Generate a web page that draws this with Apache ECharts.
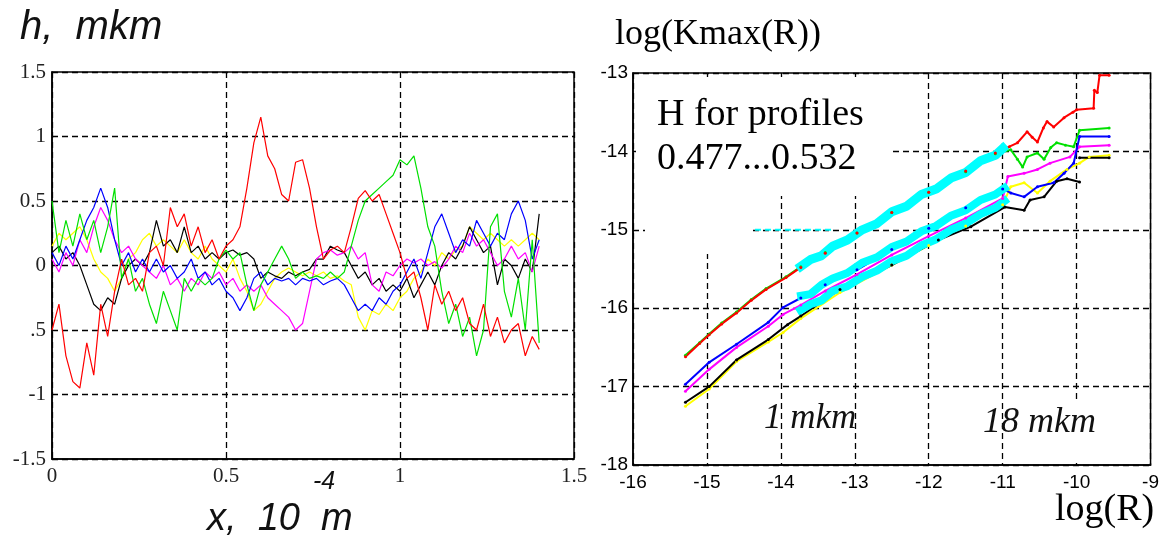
<!DOCTYPE html>
<html lang="en">
<head>
    <meta charset="UTF-8">
    <script src="https://cdn.jsdelivr.net/npm/echarts@6/dist/echarts.min.js"></script>
    <title>Profiles and log(Kmax(R))</title>
</head>
<style>
    body{
        width: 100%;
        height: 100%;
        margin: 0;
        padding: 0;
        background: #fff;
    }
</style>
<body>
<div id="main" style="width: 1162px;height:542px;"></div>
</body>
<script>
    // left panel: profile heights h (mkm) against x (10^-4 m)
    var xs = [0,0.02,0.04,0.06,0.08,0.1,0.12,0.14,0.16,0.18,0.2,0.22,0.24,0.26,0.28,0.3,0.32,0.34,0.36,0.38,
              0.4,0.42,0.44,0.46,0.48,0.5,0.52,0.54,0.56,0.58,0.6,0.62,0.64,0.66,0.68,0.7,0.72,0.74,0.76,0.78,
              0.8,0.82,0.84,0.86,0.88,0.9,0.92,0.94,0.96,0.98,1,1.02,1.04,1.06,1.08,1.1,1.12,1.14,1.16,1.18,
              1.2,1.22,1.24,1.26,1.28,1.3,1.32,1.34,1.36,1.38,1.4];
    var hRed = [-0.5,-0.3,-0.7,-0.9,-0.95,-0.6,-0.85,-0.3,-0.55,-0.2,
                0.05,-0.15,-0.1,-0.2,0.1,0.15,0,0.45,0.3,0.4,
                0.15,0.3,0.1,0.2,0.05,0.15,0.2,0.3,0.6,0.95,
                1.15,0.85,0.75,0.55,0.5,0.8,0.82,0.6,0.3,0.05,
                0.12,0.15,0.1,0.3,0.52,0.58,0.5,0.55,0.4,0.25,
                0.1,-0.1,-0.05,-0.25,-0.5,-0.15,-0.3,-0.2,-0.35,-0.25,
                -0.45,-0.5,-0.3,-0.55,-0.4,-0.6,-0.5,-0.45,-0.7,-0.55,-0.65];
    var hGreen = [0.5,0.1,0.35,0.15,0.4,0.2,0.35,0.1,0.3,0.6,
                  -0.1,0.05,-0.2,-0.1,-0.3,-0.45,-0.2,-0.35,-0.5,-0.1,
                  -0.2,-0.1,-0.15,-0.1,0.05,0.12,0.05,0.1,-0.15,-0.35,
                  -0.15,-0.05,0.05,0.15,0.05,-0.1,-0.05,-0.1,-0.08,-0.1,
                  -0.05,-0.1,-0.05,0.15,0.35,0.5,0.55,0.6,0.65,0.7,
                  0.82,0.78,0.85,0.6,0.3,0.15,-0.2,-0.45,-0.3,-0.55,
                  -0.4,-0.7,-0.5,0.3,0.4,-0.2,-0.4,-0.1,-0.5,0.2,-0.6];
    var hBlue = [0.1,0,0.15,0.05,0.2,0.35,0.45,0.6,0.45,0.2,
                 0,0.1,-0.05,0.05,-0.05,0.05,-0.05,0,-0.1,-0.05,
                 0.05,-0.1,-0.05,-0.15,-0.1,-0.2,-0.25,-0.35,-0.25,-0.1,
                 -0.05,-0.15,-0.1,-0.12,-0.1,-0.15,-0.1,-0.12,-0.1,-0.15,
                 -0.12,-0.1,-0.15,-0.25,-0.35,-0.3,-0.35,-0.25,-0.3,-0.2,
                 -0.15,-0.05,0.05,-0.1,0.1,0.3,0.4,0.25,0.1,0.2,
                 0.15,0.35,0.25,0.15,0.25,0.2,0.4,0.5,0.35,0.05,0.2];
    var hMagenta = [0.05,-0.05,0.1,0,0.2,0.1,0.3,0.45,0.35,0.2,
                    0.1,0.15,0.05,0,-0.05,-0.1,0,-0.15,-0.1,-0.2,
                    -0.1,-0.15,-0.05,-0.1,-0.05,-0.15,-0.1,-0.2,-0.15,-0.2,
                    -0.15,-0.25,-0.3,-0.35,-0.4,-0.5,-0.45,-0.2,0.05,0.1,
                    0.12,0.08,0.1,0.15,0.05,0.1,-0.15,-0.2,-0.05,-0.08,
                    0,0.05,0.02,0.05,0,0.03,-0.02,0.05,0.15,0.1,
                    0.25,0.15,0.2,0.1,0,0.05,0.15,0.05,0.1,-0.05,0.15];
    var hBlack = [0.1,0.15,0.05,0.1,0,-0.15,-0.3,-0.35,-0.25,-0.3,
                  -0.1,0,0.05,0,0.1,0.35,0.15,0.2,0.1,0.3,
                  0.1,0.15,0.05,0.1,0.05,0.1,0.12,0.08,0.1,0.05,
                  -0.1,-0.05,-0.08,-0.1,-0.05,-0.08,-0.05,-0.03,0.05,0.05,
                  0.15,0.12,0.1,0,-0.1,-0.05,-0.15,-0.1,-0.2,-0.15,
                  -0.2,-0.1,-0.25,-0.15,-0.05,-0.15,0,0.1,0.05,0.15,
                  0.3,0.2,0.1,0.15,-0.15,0.05,0,-0.1,0.05,-0.05,0.4];
    var hYellow = [0.15,0.25,0.2,0.25,0.3,0.2,0.05,-0.05,-0.1,-0.2,
                   -0.1,0.05,0.1,0.2,0.25,0.15,0.2,0.15,0.1,0.2,
                   0.1,0.05,0.15,0.05,0,-0.05,0.05,-0.1,-0.2,-0.35,
                   -0.3,-0.2,-0.1,-0.05,-0.02,-0.05,-0.08,-0.05,-0.08,-0.05,
                   -0.1,-0.08,-0.12,-0.15,-0.4,-0.5,-0.35,-0.38,-0.3,-0.35,
                   -0.25,-0.2,-0.1,-0.05,0.05,0,0.1,0.05,0.12,0.15,
                   0.3,0.25,0.2,0.25,0.2,0.15,0.2,0.15,0.2,0.25,0.2];
    var leftYLabels = ['-1.5','-1','.5','0','0.5','1','1.5'];

    // right panel: log(Kmax(R)) against log(R), [logR, logK]
    var kRed = [[-15.29,-16.62],[-15.1,-16.45],[-14.97,-16.34],[-14.8,-16.2],[-14.6,-16.06],[-14.4,-15.9],
                [-14.2,-15.76],[-13.93,-15.61],[-13.73,-15.48],[-13.4,-15.3],[-12.97,-15.04],[-12.5,-14.78],
                [-12,-14.52],[-11.5,-14.25],[-11.1,-14.02],[-10.91,-13.94],[-10.8,-13.89],[-10.67,-13.75],
                [-10.6,-13.82],[-10.53,-13.88],[-10.45,-13.7],[-10.4,-13.62],[-10.31,-13.69],[-10.17,-13.57],
                [-10.05,-13.5],[-10,-13.47],[-9.77,-13.45],[-9.76,-13.22],[-9.72,-13.25],[-9.69,-13.03],[-9.56,-13.03]];
    var kGreen = [[-15.29,-16.6],[-15.1,-16.44],[-14.97,-16.33],[-14.8,-16.19],[-14.6,-16.05],[-14.4,-15.89],
                  [-14.2,-15.75],[-13.93,-15.6],[-13.73,-15.47],[-13.4,-15.29],[-12.97,-15.04],[-12.5,-14.78],
                  [-12,-14.52],[-11.5,-14.26],[-11.1,-14.03],[-10.89,-13.98],[-10.8,-14.1],[-10.73,-14.2],
                  [-10.67,-14.07],[-10.53,-14.02],[-10.44,-14.1],[-10.35,-13.95],[-10.27,-13.89],[-10.15,-13.92],
                  [-10.04,-13.94],[-9.96,-13.73],[-9.56,-13.7]];
    var kBlue = [[-15.29,-16.97],[-14.97,-16.69],[-14.6,-16.46],[-14.17,-16.18],[-13.97,-15.99],[-13.73,-15.87],
                 [-13.4,-15.7],[-12.97,-15.51],[-12.5,-15.25],[-12,-14.98],[-11.5,-14.72],[-11,-14.48],
                 [-10.89,-14.53],[-10.71,-14.58],[-10.53,-14.45],[-10.31,-14.4],[-10.17,-14.28],[-10.04,-14.15],
                 [-9.96,-13.81],[-9.56,-13.81]];
    var kMagenta = [[-15.29,-17.06],[-14.97,-16.78],[-14.6,-16.5],[-14.17,-16.23],[-13.97,-16.08],[-13.73,-15.96],
                    [-13.4,-15.78],[-12.97,-15.57],[-12.5,-15.32],[-12,-15.08],[-11.5,-14.85],[-11,-14.6],
                    [-10.93,-14.32],[-10.71,-14.28],[-10.53,-14.23],[-10.36,-14.15],[-10.09,-14.07],[-9.96,-13.94],
                    [-9.56,-13.92]];
    var kBlack = [[-15.29,-17.2],[-14.97,-17],[-14.6,-16.66],[-14.17,-16.4],[-13.91,-16.21],[-13.73,-16.1],
                  [-13.2,-15.76],[-12.5,-15.45],[-11.87,-15.13],[-11.43,-14.96],[-10.97,-14.71],[-10.71,-14.75],
                  [-10.63,-14.62],[-10.44,-14.58],[-10.27,-14.38],[-10.13,-14.35],[-9.96,-14.39],null,
                  [-9.96,-14.08],[-9.56,-14.08]];
    var kYellow = [[-15.29,-17.25],[-14.97,-17.03],[-14.6,-16.68],[-14.17,-16.43],[-13.97,-16.31],[-13.73,-16.13],
                   [-13.2,-15.8],[-12.5,-15.45],[-12,-15.2],[-11.5,-14.95],[-11,-14.68],[-10.89,-14.45],
                   [-10.71,-14.4],[-10.53,-14.53],[-10.36,-14.38],[-10.13,-14.23],[-9.96,-14.15],[-9.83,-14.07],
                   [-9.56,-14.05]];
    var kCyanUp = [[-13.78,-15.5],[-13.6,-15.38],[-13.45,-15.33],[-13.3,-15.21],[-13.1,-15.13],[-12.9,-15],
                   [-12.7,-14.92],[-12.5,-14.77],[-12.3,-14.7],[-12.1,-14.55],[-11.9,-14.48],[-11.7,-14.34],
                   [-11.5,-14.27],[-11.3,-14.12],[-11.1,-14.05],[-10.95,-13.92]];
    var kCyanLowA = [[-13.78,-15.85],[-13.6,-15.82],[-13.45,-15.7],[-13.3,-15.62],[-13.1,-15.55],[-12.9,-15.42],
                     [-12.7,-15.35],[-12.5,-15.22],[-12.3,-15.15],[-12.1,-15.02],[-11.9,-14.95],[-11.7,-14.82],
                     [-11.5,-14.75],[-11.3,-14.62],[-11.1,-14.55],[-10.93,-14.44]];
    var kCyanLowB = [[-13.78,-16.05],[-13.6,-15.95],[-13.45,-15.9],[-13.3,-15.78],[-13.1,-15.72],[-12.9,-15.6],
                     [-12.7,-15.52],[-12.5,-15.4],[-12.3,-15.33],[-12.1,-15.2],[-11.9,-15.12],[-11.7,-15],
                     [-11.5,-14.92],[-11.3,-14.8],[-11.1,-14.72],[-10.93,-14.6]];
    var kCyanDash = [[-14.35,-15],[-13.3,-15]];

    function pairs(ys) {
        return xs.map(function (x, i) { return [x, ys[i]]; });
    }

    var dashed = {show: true, lineStyle: {color: '#000', width: 1.3, type: [6, 4]}};
    var leftFont = {color: '#222', fontSize: 21, fontFamily: '"Liberation Serif", serif'};
    var rightFont = {color: '#000', fontSize: 19, fontFamily: '"Liberation Sans", Arial, sans-serif'};
    var axisLineBlack = {onZero: false, lineStyle: {color: '#000', width: 1.5}};

    function profile(name, color, ys) {
        return {name: name, type: 'line', xAxisIndex: 0, yAxisIndex: 0, data: pairs(ys),
                showSymbol: false, lineStyle: {color: color, width: 1.2}, itemStyle: {color: color}};
    }
    function kline(name, color, data, width, sym) {
        return {name: name, type: 'line', xAxisIndex: 1, yAxisIndex: 1, data: data,
                showSymbol: sym, symbol: 'circle', symbolSize: 3, connectNulls: false,
                lineStyle: {color: color, width: width}, itemStyle: {color: color}};
    }

    var chart = echarts.init(document.getElementById('main'));
    var option = {
        animation: false,
        backgroundColor: '#fff',
        grid: [
            {left: 52, top: 72, width: 522, height: 387, show: true, borderColor: '#000', borderWidth: 1.5},
            {left: 633, top: 73, width: 521, height: 392, show: true, borderColor: '#000', borderWidth: 1.5}
        ],
        xAxis: [
            {type: 'value', gridIndex: 0, min: 0, max: 1.5, interval: 0.5,
             axisLine: axisLineBlack, axisTick: {show: false},
             axisLabel: Object.assign({margin: 7}, leftFont), splitLine: dashed},
            {type: 'value', gridIndex: 1, min: -16, max: -9, interval: 1,
             axisLine: axisLineBlack, axisTick: {show: false},
             axisLabel: Object.assign({margin: 8}, rightFont), splitLine: dashed}
        ],
        yAxis: [
            {type: 'value', gridIndex: 0, min: -1.5, max: 1.5, interval: 0.5,
             axisLine: axisLineBlack, axisTick: {show: false},
             axisLabel: Object.assign({margin: 6, formatter: function (v) {
                 return leftYLabels[Math.round((v + 1.5) / 0.5)];
             }}, leftFont), splitLine: dashed},
            {type: 'value', gridIndex: 1, min: -18, max: -13, interval: 1,
             axisLine: axisLineBlack, axisTick: {show: false},
             axisLabel: Object.assign({margin: 5}, rightFont), splitLine: dashed}
        ],
        graphic: {elements: [
            {type: 'rect', z: 1, shape: {x: 636, y: 77, width: 256, height: 119}, style: {fill: '#fff'}},
            {type: 'rect', z: 1, shape: {x: 645, y: 196, width: 108, height: 58}, style: {fill: '#fff'}},
            {type: 'rect', z: 1, shape: {x: 1045, y: 402, width: 62, height: 61}, style: {fill: '#fff'}},
            {type: 'text', z: 10, style: {text: 'h,  mkm', x: 20, y: 8, fill: '#111',
                font: 'italic 40px "Liberation Sans", sans-serif'}},
            {type: 'text', z: 10, style: {text: 'x,  10  m', x: 207, y: 500, fill: '#111',
                font: 'italic 38px "Liberation Sans", sans-serif'}},
            {type: 'text', z: 10, style: {text: '-4', x: 313, y: 470, fill: '#111',
                font: 'italic 25px "Liberation Sans", sans-serif'}},
            {type: 'text', z: 10, style: {text: 'log(Kmax(R))', x: 615, y: 17, fill: '#000',
                font: '36px "Liberation Serif", serif'}},
            {type: 'text', z: 10, style: {text: 'H for profiles', x: 657, y: 96, fill: '#000',
                font: '38px "Liberation Serif", serif'}},
            {type: 'text', z: 10, style: {text: '0.477...0.532', x: 657, y: 140, fill: '#000',
                font: '38px "Liberation Serif", serif'}},
            {type: 'text', z: 10, style: {text: '1 mkm', x: 764, y: 401, fill: '#111',
                font: 'italic 35px "Liberation Serif", serif'}},
            {type: 'text', z: 10, style: {text: '18 mkm', x: 983, y: 405, fill: '#111',
                font: 'italic 36px "Liberation Serif", serif'}},
            {type: 'text', z: 10, style: {text: 'log(R)', x: 1055, y: 491, fill: '#000',
                font: '38px "Liberation Serif", serif'}}
        ]},
        series: [
            profile('yellow', '#ffff00', hYellow),
            profile('black', '#000000', hBlack),
            profile('magenta', '#ff00ff', hMagenta),
            profile('blue', '#0000ff', hBlue),
            profile('green', '#00e000', hGreen),
            profile('red', '#ff0000', hRed),
            kline('green', '#00e000', kGreen, 2, true),
            kline('red', '#ff0000', kRed, 2, true),
            kline('yellow', '#ffff00', kYellow, 2, true),
            kline('black', '#000000', kBlack, 2, true),
            kline('magenta', '#ff00ff', kMagenta, 2, true),
            kline('blue', '#0000ff', kBlue, 2, true),
            kline('cyanLowB', '#00ffff', kCyanLowB, 8, false),
            kline('cyanLowA', '#00ffff', kCyanLowA, 8, false),
            kline('cyanUp', '#00ffff', kCyanUp, 9, false),
            {type: 'line', xAxisIndex: 1, yAxisIndex: 1, data: kCyanDash, showSymbol: false, z: 3,
             lineStyle: {color: '#00ffff', width: 2, type: [6, 4]}}
        ]
    };
    chart.setOption(option);
</script>
</html>
